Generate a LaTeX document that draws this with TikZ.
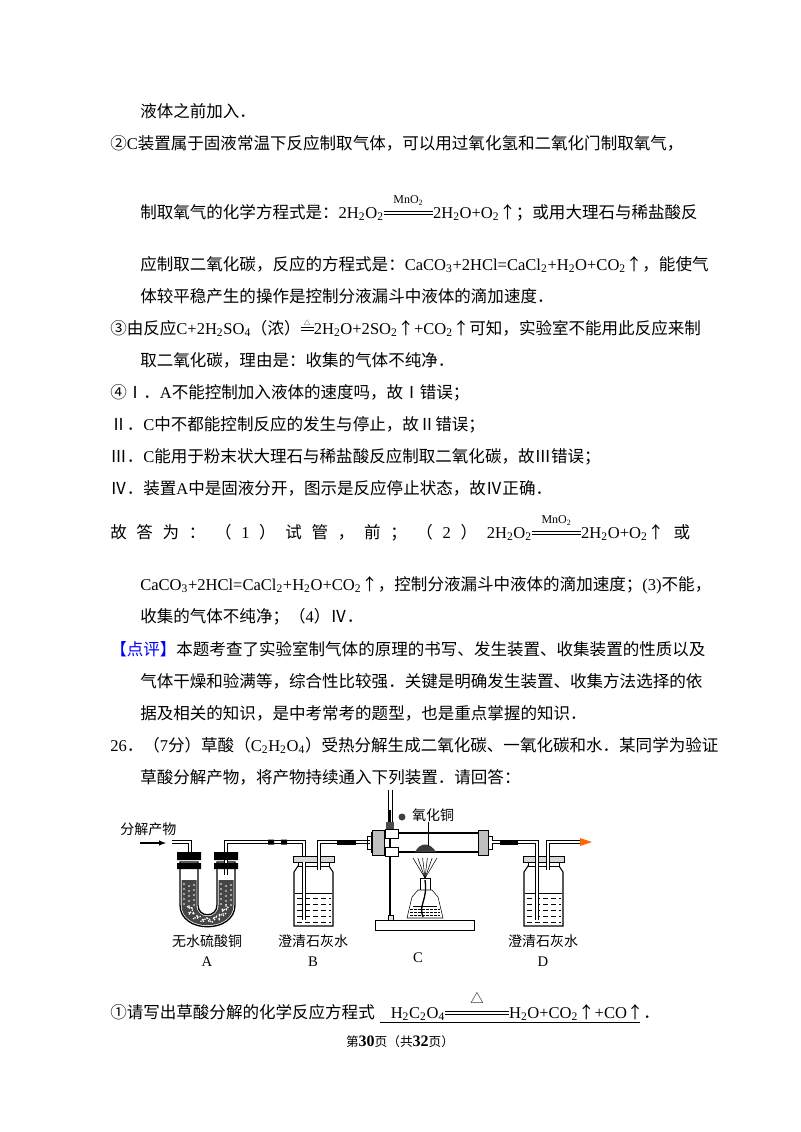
\documentclass[tikz,border=0pt]{standalone}
\usepackage{fontspec}
\setmainfont{Noto Sans CJK SC}
\newfontfamily\lat{Liberation Serif}
\usepackage{xcolor}
\newcommand\sbb[1]{\textsubscript{#1}}
\newcommand\cond[2]{\makebox[#2][l]{\rlap{\rule[0.2em]{#2}{0.4pt}}\rlap{\rule[0.4em]{#2}{0.4pt}}\makebox[#2]{\raisebox{0.85em}{\small #1}}}}
\newcommand\heq{\makebox[0.8em]{\rlap{\rule[0.2em]{0.8em}{0.4pt}}\rlap{\rule[0.4em]{0.8em}{0.4pt}}\makebox[0.8em]{\raisebox{0.5em}{\tiny △}}}}
\definecolor{cuo}{RGB}{60,60,60}
\tikzset{t/.style={anchor=base west,inner sep=0,font=\fontsize{12.4pt}{14pt}\selectfont},
 lab/.style={inner sep=0,font=\fontsize{10.5pt}{12pt}\selectfont},
 tube/.style={line width=0.5pt,draw=black,double=white,double distance=1.6pt},
 rub/.style={fill=black}}
\begin{document}
\begin{tikzpicture}[x=0.75pt,y=-0.75pt]
\useasboundingbox (0,0) rectangle (800,1132);
\fill[white] (0,0) rectangle (800,1132);
\node[t] (l1) at (140,117) {液体之前加入．};
\node[t] (l2) at (110,149) {②{\lat C}装置属于固液常温下反应制取气体，可以用过氧化氢和二氧化门制取氧气，};
\node[t] (l3) at (140,218) {制取氧气的化学方程式是：{\lat 2H\sbb2O\sbb2}\cond{\lat MnO\sbb2}{37pt}{\lat 2H\sbb2O+O\sbb2}↑；或用大理石与稀盐酸反};
\node[t] (l4) at (140,270) {应制取二氧化碳，反应的方程式是：{\lat CaCO\sbb3+2HCl=CaCl\sbb2+H\sbb2O+CO\sbb2}↑，能使气};
\node[t] (l5) at (140,302) {体较平稳产生的操作是控制分液漏斗中液体的滴加速度．};
\node[t] (l6) at (110,334) {③由反应{\lat C+2H\sbb2SO\sbb4}（浓）\heq{\lat 2H\sbb2O+2SO\sbb2}↑{\lat +CO\sbb2}↑可知，实验室不能用此反应来制};
\node[t] (l7) at (140,366) {取二氧化碳，理由是：收集的气体不纯净．};
\node[t] (l8) at (110,398) {④Ⅰ．{\lat A}不能控制加入液体的速度吗，故Ⅰ错误；};
\node[t] (l9) at (110,430) {Ⅱ．{\lat C}中不都能控制反应的发生与停止，故Ⅱ错误；};
\node[t] (l10) at (110,462) {Ⅲ．{\lat C}能用于粉末状大理石与稀盐酸反应制取二氧化碳，故Ⅲ错误；};
\node[t] (l11) at (110,494) {Ⅳ．装置{\lat A}中是固液分开，图示是反应停止状态，故Ⅳ正确．};
\node[t] (l12) at (110,538) {\makebox[435pt][s]{故 答 为 ： （ {\lat 1} ） 试 管 ， 前 ； （ {\lat 2} ） {\lat 2H\sbb2O\sbb2}\cond{\lat MnO\sbb2}{37pt}{\lat 2H\sbb2O+O\sbb2}↑ 或}};
\node[t] (l13) at (140,590) {{\lat CaCO\sbb3+2HCl=CaCl\sbb2+H\sbb2O+CO\sbb2}↑，控制分液漏斗中液体的滴加速度；{\lat (3)}不能，};
\node[t] (l14) at (140,622) {收集的气体不纯净；（{\lat 4}）Ⅳ．};
\node[t] (l15) at (110,655) {\textcolor{blue}{【点评】}本题考查了实验室制气体的原理的书写、发生装置、收集装置的性质以及};
\node[t] (l16) at (140,687) {气体干燥和验满等，综合性比较强．关键是明确发生装置、收集方法选择的依};
\node[t] (l17) at (140,719) {据及相关的知识，是中考常考的题型，也是重点掌握的知识．};
\node[t] (l18) at (110,751) {{\lat 26}．（{\lat 7}分）草酸（{\lat C\sbb2H\sbb2O\sbb4}）受热分解生成二氧化碳、一氧化碳和水．某同学为验证};
\node[t] (l19) at (140,783) {草酸分解产物，将产物持续通入下列装置．请回答：};
\node[t] (l20) at (110,1018) {①请写出草酸分解的化学反应方程式\hspace{12pt}{\lat H\sbb2C\sbb2O\sbb4}\cond{\normalsize△}{48pt}{\lat H\sbb2O+CO\sbb2}↑{\lat +CO}↑};
\coordinate (u1) at (380,1022);
\coordinate (u2) at (640,1022);
\draw[line width=0.6pt] (u1) -- (u2);
\node[t] (dot) at (643,1018) {．};
\node[inner sep=0,font=\fontsize{9.5pt}{11pt}\selectfont] (foot) at (400,1042) {第{\lat\bfseries\large 30}页（共{\lat\bfseries\large 32}页）};
% ---------- apparatus ----------
\node[lab,anchor=west] (fj) at (120,829) {分解产物};
\coordinate (a1) at (140,843); \coordinate (a2) at (166,843);
\draw[-latex,line width=0.8pt] (a1) -- (a2);
% U tube A
\draw[line width=1pt,fill=white] (180,862) -- (180,905) .. controls (180,934) and (235,934) .. (235,905) -- (235,862) -- (217,862) -- (217,905) .. controls (217,918) and (198,918) .. (198,905) -- (198,862) -- cycle;
\fill[gray!55!black] (181.5,880) -- (181.5,905) .. controls (181.5,932) and (233.5,932) .. (233.5,905) -- (233.5,880) -- (218.5,880) -- (218.5,905) .. controls (218.5,920) and (196.5,920) .. (196.5,905) -- (196.5,880) -- cycle;
\foreach \i in {0,...,50}{\pgfmathsetmacro\ang{180+3.6*\i}\fill[white] ({207.5+18*cos(\ang)+2.5*sin(97*\i)},{906-14*sin(\ang)+2*cos(53*\i)}) circle (0.9);}
\foreach \yy in {884,889,...,905}{\fill[white] (184,\yy) circle(0.9) (189,\yy+2) circle(0.9) (194,\yy+1) circle (0.9) (221,\yy) circle(0.9) (226,\yy+2) circle(0.9) (231,\yy+1) circle (0.9);}
% tubes A
\draw[tube] (172,842) -- (190,842) -- (190,852);
\draw[tube] (226,875) -- (226,842) -- (304,842) -- (304,866);
\fill[black] (177,852) rectangle (201,860) (177,863) rectangle (201,869) (214,852) rectangle (238,860) (214,863) rectangle (238,869);
\fill[rub] (268,839.5) rectangle (274,844.5) (281,839.5) rectangle (287,844.5);
% bottle B
\draw[line width=0.8pt,fill=white] (298,866) -- (294,872) -- (294,926) -- (333,926) -- (333,872) -- (329,866) -- cycle;
\draw[fill=gray!30] (293,856) rectangle (334,862); \draw[fill=white] (298,862) rectangle (329,866);
\draw (295,893) -- (332,893);
\foreach \yy in {898,904,...,922}{\draw[line width=0.5pt,dash pattern=on 4pt off 2pt] (297,\yy) -- (331,\yy);}
\draw[tube] (319,870) -- (319,842) -- (370,842);
\draw[tube] (304,862) -- (304,920);
\fill[rub] (337,839.5) rectangle (356,844.5);
% C
\draw[line width=0.8pt,fill=white] (372,833) rectangle (488,852);
\draw[fill=gray!50] (372,830) rectangle (384,855);
\draw[fill=gray!50] (478,830) rectangle (488,855);
\draw (367,836) rectangle (372,849); \draw (488,836) rectangle (492,849);
\draw[line width=1.3pt] (390,810) -- (390,918);
\draw[line width=0.6pt] (388,790) -- (388,828) (392,790) -- (392,828);
\fill[black!70] (386,822) rectangle (394,830);
\draw[fill=white] (385,829) rectangle (398,838); \draw[fill=white] (385,847) rectangle (398,856);
\fill[black!75] (402,817) circle (3.5);
\draw[fill=white] (375,920) rectangle (474,930);
\draw[fill=gray!20] (388,915) rectangle (393,920);
\fill[cuo] (415,852) .. controls (420,842) and (430,842) .. (436,852) -- cycle;
\node[lab] (cuo) at (433,815) {氧化铜};
\coordinate (cuo1) at (428,822); \coordinate (cuo2) at (428,846);
\draw[line width=0.5pt] (cuo1) -- (cuo2);
% lamp
\foreach \dx in {-10,-6,-2,2,6,10}{\draw[line width=0.4pt] (425,878) -- ({425+\dx*1.2},858);}
\draw[fill=white] (420,878) rectangle (430,890);
\draw[fill=white] (418,890) -- (412,897) -- (407,918) -- (443,918) -- (438,897) -- (432,890) -- cycle;
\draw[line width=0.4pt] (413,906) -- (437,906);
\foreach \yy in {909,912,915}{\draw[line width=0.3pt,dash pattern=on 2pt off 1pt] (410,\yy) -- (440,\yy);}
\draw[line width=1pt] (425,880) .. controls (428,900) and (418,905) .. (423,917);
% to D
\draw[tube] (492,842) -- (537,842) -- (537,920);
\fill[rub] (500,839.5) rectangle (518,844.5);
\draw[line width=0.8pt,fill=white] (528,866) -- (524,872) -- (524,926) -- (563,926) -- (563,872) -- (559,866) -- cycle;
\draw[fill=gray!30] (523,856) rectangle (564,862); \draw[fill=white] (528,862) rectangle (559,866);
\draw (525,893) -- (562,893);
\foreach \yy in {898,904,...,922}{\draw[line width=0.5pt,dash pattern=on 4pt off 2pt] (527,\yy) -- (561,\yy);}
\draw[tube] (537,855) -- (537,920);
\draw[tube] (548,870) -- (548,842) -- (580,842);
\fill[orange!80!red] (580,838) -- (592,842) -- (580,846) -- cycle;
% labels
\node[lab] (la) at (207,941) {无水硫酸铜};
\node[lab,font=\lat\fontsize{11pt}{12pt}\selectfont] (A) at (207,962) {A};
\node[lab] (lb) at (313,941) {澄清石灰水};
\node[lab,font=\lat\fontsize{11pt}{12pt}\selectfont] (B) at (313,962) {B};
\node[lab,font=\lat\fontsize{11pt}{12pt}\selectfont] (C) at (418,958) {C};
\node[lab] (ld) at (543,941) {澄清石灰水};
\node[lab,font=\lat\fontsize{11pt}{12pt}\selectfont] (D) at (543,962) {D};
\end{tikzpicture}
\end{document}
